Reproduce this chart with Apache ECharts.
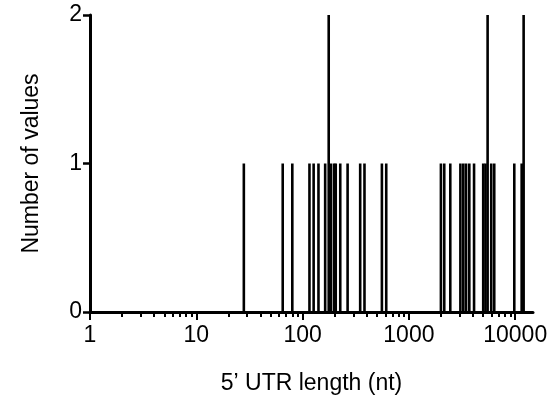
<!DOCTYPE html>
<html>
<head>
<meta charset="utf-8">
<script src="https://cdn.jsdelivr.net/npm/echarts@6/dist/echarts.min.js"></script>
<style>
  html, body { margin: 0; padding: 0; background: #fff; }
  #chart { width: 549px; height: 397px; }
</style>
</head>
<body>
<div id="chart"></div>
<script>
// 5' UTR lengths (nt) and how many transcripts share each length
const utrLength = [28, 65, 80, 116, 127, 141, 163, 176, 185, 198, 205, 226, 265,
  348, 382, 557, 612,
  2000, 2150, 2450, 3050, 3250, 3450, 3700, 4100, 5000, 5250, 5500, 5950, 6350, 9800, 11500, 12000];
const valueCount = [1, 1, 1, 1, 1, 1, 1, 2, 1, 1, 1, 1, 1,
  1, 1, 1, 1,
  1, 1, 1, 1, 1, 1, 1, 1, 1, 1, 2, 1, 1, 1, 1, 2];

// axis ticks
const majorTicks = [1, 10, 100, 1000, 10000];
const minorTicks = [2, 3, 4, 5, 6, 7, 8, 9, 20, 30, 40, 50, 60, 70, 80, 90,
  200, 300, 400, 500, 600, 700, 800, 900, 2000, 3000, 4000, 5000, 6000, 7000, 8000, 9000];
const yTicks = [0, 1, 2];

const xMin = 1, xMax = 14700;
const font = '"Liberation Sans", Arial, Helvetica, sans-serif';
const fontSize = 23;

const chart = echarts.init(document.getElementById('chart'), null, { renderer: 'canvas' });

const spikes = utrLength.map((v, i) => [v, valueCount[i]]);

chart.setOption({
  animation: false,
  backgroundColor: '#fff',
  grid: { left: 90, right: 16, top: 15, bottom: 85, containLabel: false, outerBoundsMode: 'none' },
  xAxis: [
    {
      type: 'log', logBase: 10, min: xMin, max: xMax,
      name: '5\u2019 UTR length (nt)', nameLocation: 'middle', nameGap: 60,
      nameTextStyle: { color: '#000', fontSize: fontSize, fontFamily: font },
      axisLine: { onZero: false, lineStyle: { color: '#000', width: 3 } },
      axisTick: { show: true, length: 8, lineStyle: { color: '#000', width: 2 }, customValues: majorTicks },
      axisLabel: { color: '#000', fontSize: fontSize, fontFamily: font, margin: 12, customValues: majorTicks,
        formatter: v => String(Math.round(v)) },
      splitLine: { show: false },
      minorTick: { show: false }
    },
    {
      type: 'log', logBase: 10, min: xMin, max: xMax, position: 'bottom',
      axisLine: { show: false, onZero: false },
      axisTick: { show: true, length: 5, lineStyle: { color: '#000', width: 2 }, customValues: minorTicks },
      axisLabel: { show: false },
      splitLine: { show: false }
    }
  ],
  yAxis: {
    type: 'value', min: 0, max: 2, interval: 1,
    name: 'Number of values', nameLocation: 'middle', nameGap: 47,
    nameTextStyle: { color: '#000', fontSize: fontSize, fontFamily: font },
    axisLine: { show: true, lineStyle: { color: '#000', width: 3 } },
    axisTick: { show: true, length: 7, lineStyle: { color: '#000', width: 2.5 }, customValues: yTicks },
    axisLabel: { color: '#000', fontSize: fontSize, fontFamily: font, margin: 8 },
    splitLine: { show: false }
  },
  series: [{
    type: 'custom',
    xAxisIndex: 0,
    data: spikes,
    renderItem: function (params, api) {
      const x = api.value(0), c = api.value(1);
      const p0 = api.coord([x, 0]);
      const p1 = api.coord([x, c]);
      return {
        type: 'line',
        shape: { x1: p0[0], y1: p0[1], x2: p1[0], y2: p1[1] },
        style: { stroke: '#000', lineWidth: 2.6 }
      };
    }
  }]
});
</script>
</body>
</html>
